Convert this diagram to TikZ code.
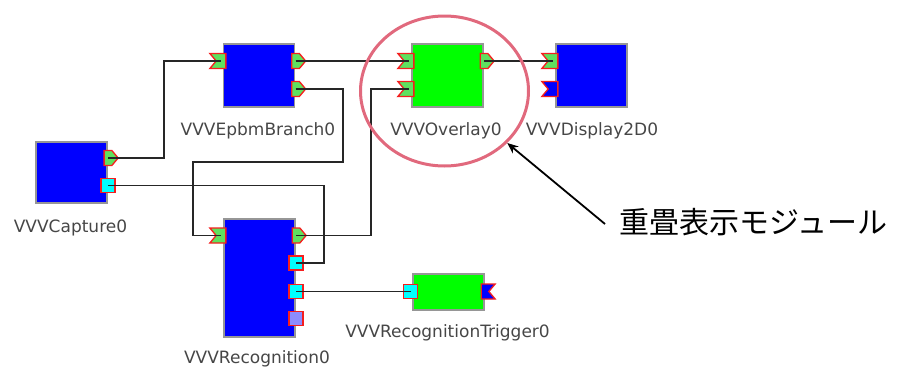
\documentclass[tikz,border=0pt]{standalone}
\definecolor{bleu}{RGB}{0,0,255}
\definecolor{vert}{RGB}{0,255,0}
\definecolor{vertport}{RGB}{95,225,95}
\definecolor{cyanport}{RGB}{0,255,255}
\definecolor{violet}{RGB}{140,140,255}
\definecolor{rouge}{RGB}{245,30,30}
\definecolor{gris}{RGB}{150,150,150}
\definecolor{texte}{RGB}{70,70,70}
\definecolor{rose}{RGB}{225,105,125}
\usepackage{fontspec}
\setmainfont{DejaVu Sans}
\newfontfamily\cjk{Noto Sans CJK JP}
\usepackage{tikz}
\usetikzlibrary{arrows.meta,shapes.geometric,shapes.symbols}

\begin{document}
\begin{tikzpicture}[x=1pt,y=-1pt,
		module/.style={draw=gris,line width=1.5pt,minimum width=71pt,inner sep=0pt},
		port/.style={draw=rouge,line width=1.3pt,inner sep=0pt,minimum width=14pt,minimum height=14pt},
		inport/.style={port,shape=signal,signal from=west,signal to=nowhere,signal pointer angle=100,minimum width=16pt,minimum height=15pt,fill=vertport},
		outport/.style={port,shape=signal,signal to=east,signal from=nowhere,signal pointer angle=100,minimum height=15pt,fill=vertport},
		cyport/.style={port,rectangle,fill=cyanport},
		lbl/.style={text=texte,font=\fontsize{17}{19}\selectfont,anchor=base},
		wire/.style={black!85,line width=1.4pt}]
				\useasboundingbox (0,0) rectangle (905,370);
				% modules
				\node[module,fill=bleu,minimum height=61pt] (cap) at (71.5,172.5) {};
				\node[module,fill=bleu,minimum height=63pt] (epb) at (259,75.5) {};
				\node[module,fill=vert,minimum height=63pt] (ovl) at (447.5,75.5) {};
				\node[module,fill=bleu,minimum height=63pt] (dsp) at (591.5,75.5) {};
				\node[module,fill=bleu,minimum height=118pt] (rec) at (259.5,278) {};
				\node[module,fill=vert,minimum height=36pt] (trg) at (448.5,292) {};
				% ports
				\node[outport] (cap-o) at (108,158) {};
				\node[cyport] (cap-c) at (108,185.5) {};
				\node[inport] (epb-i) at (221,61) {};
				\node[outport] (epb-o1) at (295.5,61) {};
				\node[outport] (epb-o2) at (295.5,89) {};
				\node[inport] (ovl-i1) at (409,61) {};
				\node[inport] (ovl-i2) at (409,89) {};
				\node[outport] (ovl-o) at (484,61) {};
				\node[inport] (dsp-i1) at (553,61) {};
				\node[inport,fill=bleu] (dsp-i2) at (553,89) {};
				\node[inport] (rec-i) at (221,235.5) {};
				\node[outport] (rec-o) at (296,235.5) {};
				\node[cyport] (rec-c1) at (296,263) {};
				\node[cyport] (rec-c2) at (296,291.5) {};
				\node[port,rectangle,fill=violet] (rec-p) at (296,318.5) {};
				\node[cyport] (trg-i) at (410.5,291.5) {};
				\node[port,shape=signal,signal from=east,signal to=nowhere,signal pointer angle=100,minimum height=15pt,fill=bleu] (trg-o) at (485,291.5) {};
				% labels
				\node[lbl] at (70.5,232) {VVVCapture0};
				\node[lbl] at (258,135) {VVVEpbmBranch0};
				\node[lbl] at (446,135) {VVVOverlay0};
				\node[lbl] at (592,135) {VVVDisplay2D0};
				\node[lbl] at (257,363) {VVVRecognition0};
				\node[lbl] at (447.5,337) {VVVRecognitionTrigger0};
				% connections
				\coordinate (b1) at (343,162);
				\coordinate (b2) at (193,162);
				\draw[wire] (cap-o.center) -- ++(56,0) |- (epb-i.center);
				\draw[wire] (cap-c.center) -- ++(216,0) |- (rec-c1.center);
				\draw[wire] (epb-o1.center) -- (ovl-i1.center);
				\draw[wire] (epb-o2.center) -| (b1) -- (b2) |- (rec-i.center);
				\draw[wire] (rec-o.center) -- ++(75,0) |- (ovl-i2.center);
				\draw[wire] (ovl-o.center) -- (dsp-i1.center);
				\draw[wire] (rec-c2.center) -- (trg-i.center);
				% highlight
				\node[draw=rose,line width=3pt,ellipse,minimum width=168pt,minimum height=150pt] (hl) at (444.5,91) {};
				\node[font=\cjk\fontsize{30}{34}\selectfont,anchor=west,inner sep=0pt] (note) at (619,222) {重畳表示モジュール};
				\draw[line width=1.8pt,-{Stealth[length=11pt,width=9pt]}] ([xshift=-14pt,yshift=-2pt]note.west) -- (hl);
			\end{tikzpicture}
\end{document}
